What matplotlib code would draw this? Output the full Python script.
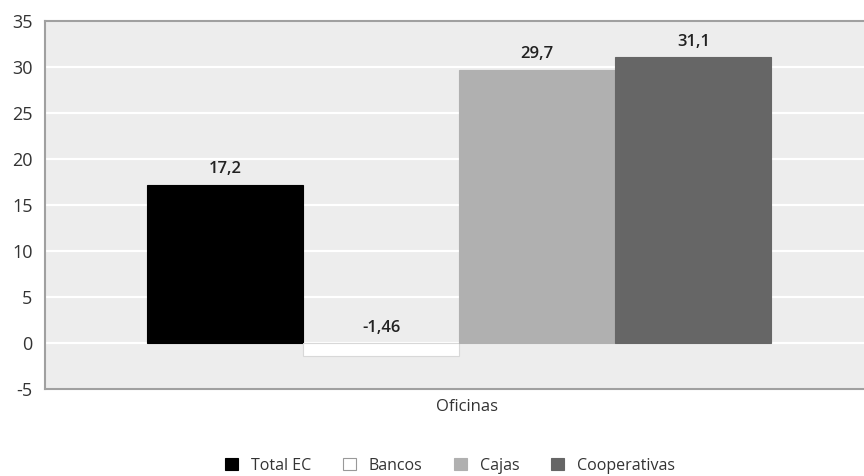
import matplotlib.pyplot as plt
from matplotlib.patches import Patch

plt.rcParams['font.family'] = ['Open Sans', 'DejaVu Sans']
plt.rcParams['axes.unicode_minus'] = False

category = 'Oficinas'
series = ['Total EC', 'Bancos', 'Cajas', 'Cooperativas']
values = [17.2, -1.46, 29.7, 31.1]
labels = ['17,2', '-1,46', '29,7', '31,1']
colors = ['#000000', '#ffffff', '#b0b0b0', '#666666']

fig = plt.figure(figsize=(8.64, 4.76), dpi=100)
ax = fig.add_axes([45 / 864, 87 / 476, 835 / 864, 368 / 476])
ax.set_facecolor('#ededed')

width = 0.187
n = len(series)
offsets = [(i - (n - 1) / 2) * width - 0.004 for i in range(n)]
for off, v, c, lab in zip(offsets, values, colors, labels):
    ax.bar(off, v, width=width, color=c,
           edgecolor='#d8d8d8' if c == '#ffffff' else c, linewidth=0.8, zorder=3)
    y = v if v > 0 else 0
    ax.text(off, y + 0.8, lab, ha='center', va='bottom', fontsize=12,
            fontweight='semibold', color='#222222', zorder=4)

ax.set_xlim(-0.5, 0.5)
ax.set_ylim(-5, 35)
ax.set_yticks(range(-5, 36, 5))
ax.set_xticks([0.005])
ax.set_xticklabels([category])
ax.yaxis.grid(True, color='white', linewidth=1.6, zorder=0)
ax.set_axisbelow(True)
ax.tick_params(axis='both', length=0, labelsize=12, colors='#333333')
ax.tick_params(axis='y', labelsize=13, pad=9)
ax.tick_params(axis='x', pad=7)
for s in ['left', 'bottom', 'top']:
    ax.spines[s].set_color('#a0a0a0')
    ax.spines[s].set_linewidth(1.5)
ax.spines['right'].set_visible(False)

handles = [Patch(facecolor=c, edgecolor='#999999' if c == '#ffffff' else c, linewidth=0.8)
           for c in colors]
fig.legend(handles, series, loc='center', bbox_to_anchor=(0.521, 0.022), ncol=4,
           frameon=False, fontsize=11.5, handlelength=0.8, handleheight=0.8,
           columnspacing=2.0, handletextpad=0.8, labelcolor='#333333')

fig.savefig('out.png', dpi=100)
